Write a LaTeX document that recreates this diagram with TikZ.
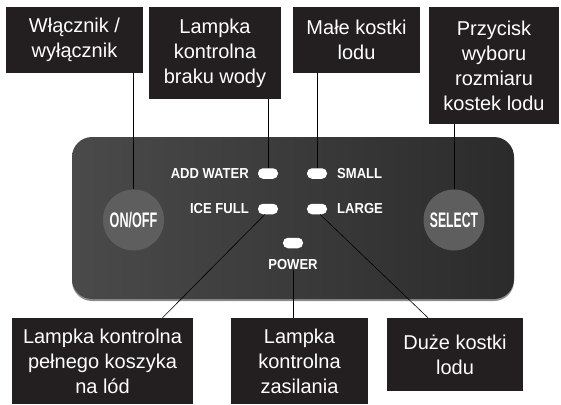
\documentclass[tikz,border=0pt]{standalone}
\usepackage{graphicx}
\usepackage{fontspec}
\setmainfont{Liberation Sans}

\definecolor{boxdark}{HTML}{231F20}
\definecolor{knobgray}{HTML}{5E5E5E}
\definecolor{panelleft}{HTML}{4A4A4A}
\definecolor{panelright}{HTML}{2B2B2B}
\definecolor{panelrim}{HTML}{8C8C8C}

\begin{document}
\begin{tikzpicture}[x = 1pt, y = -1pt,
    callout/.style = {fill = boxdark, text = white, align = center, inner sep = 0pt,
        font = \fontsize{20}{25}\selectfont},
    led/.style = {fill = white, rounded corners = 5pt, minimum width = 20pt,
        minimum height = 10.5pt, inner sep = 0pt},
    knob/.style = {circle, fill = knobgray, minimum size = 61pt, inner sep = 0pt,
        text = white, font = \fontsize{21}{21}\selectfont\bfseries},
    panellbl/.style = {text = white, inner sep = 0pt, font = \fontsize{14.5}{14.5}\selectfont\bfseries},
    wire/.style = {draw = black, line width = 0.6pt}]
    \useasboundingbox (0,0) rectangle (561,404);

    % panel
    \fill[panelrim, rounded corners = 20pt] (72,139) rectangle (514,301);
    \shade[left color = panelleft, right color = panelright, rounded corners = 20pt]
        (72,137) rectangle (514,299);

    % buttons and lamps
    \node[knob] (onoffbtn) at (133.5,220) {\scalebox{0.6}[1]{ON/OFF}};
    \node[knob] (selectbtn) at (454,220) {\scalebox{0.58}[1]{SELECT}};
    \node[led] (waterled) at (268,173.5) {};
    \node[led] (smallled) at (317,173.5) {};
    \node[led] (fullled) at (268,209) {};
    \node[led] (largeled) at (317,209) {};
    \node[led] (powerled) at (293,243) {};
    \node[panellbl, anchor = east] (waterlbl) at (249,173.5) {\scalebox{0.9}[1]{ADD WATER}};
    \node[panellbl, anchor = west] (smalllbl) at (337,173.5) {\scalebox{0.9}[1]{SMALL}};
    \node[panellbl, anchor = east] (fulllbl) at (249,209) {\scalebox{0.9}[1]{ICE FULL}};
    \node[panellbl, anchor = west] (largelbl) at (337,209) {\scalebox{0.9}[1]{LARGE}};
    \node[panellbl] (powerlbl) at (293,265) {\scalebox{0.9}[1]{POWER}};

    % callouts
    \node[callout, minimum width = 137pt, minimum height = 66pt] (onoffbox) at (74.5,40) {Włącznik /\\wyłącznik};
    \node[callout, minimum width = 132pt, minimum height = 92pt] (waterbox) at (215,53) {Lampka\\kontrolna\\braku wody};
    \node[callout, minimum width = 127pt, minimum height = 66pt] (smallbox) at (356.5,40) {Małe kostki\\lodu};
    \node[callout, minimum width = 130pt, minimum height = 117pt] (selectbox) at (494,65.5) {Przycisk\\wyboru\\rozmiaru\\kostek lodu};
    \node[callout, minimum width = 181pt, minimum height = 86pt] (fullbox) at (102.5,361) {Lampka kontrolna\\pełnego koszyka\\na lód};
    \node[callout, minimum width = 137pt, minimum height = 86pt] (powerbox) at (299.5,361) {Lampka\\kontrolna\\zasilania};
    \node[callout, minimum width = 136pt, minimum height = 73pt] (largebox) at (455,354.5) {Duże kostki\\lodu};

    \draw[wire] (onoffbox.south -| onoffbtn.north) -- (onoffbtn.north);
    \draw[wire] (waterbox.south -| waterled.north) -- (waterled.north);
    \draw[wire] (smallbox.south -| smallled.north) -- (smallled.north);
    \draw[wire] (selectbox.south -| selectbtn.north) -- (selectbtn.north);
    \draw[wire] (fullled.240) -- ([xshift = 60pt]fullbox.north);
    \draw[wire] (powerlbl.south) -- (powerlbl.south |- powerbox.north);
    \draw[wire] (largeled.300) -- ([xshift = -27pt]largebox.north);
\end{tikzpicture}
\end{document}
